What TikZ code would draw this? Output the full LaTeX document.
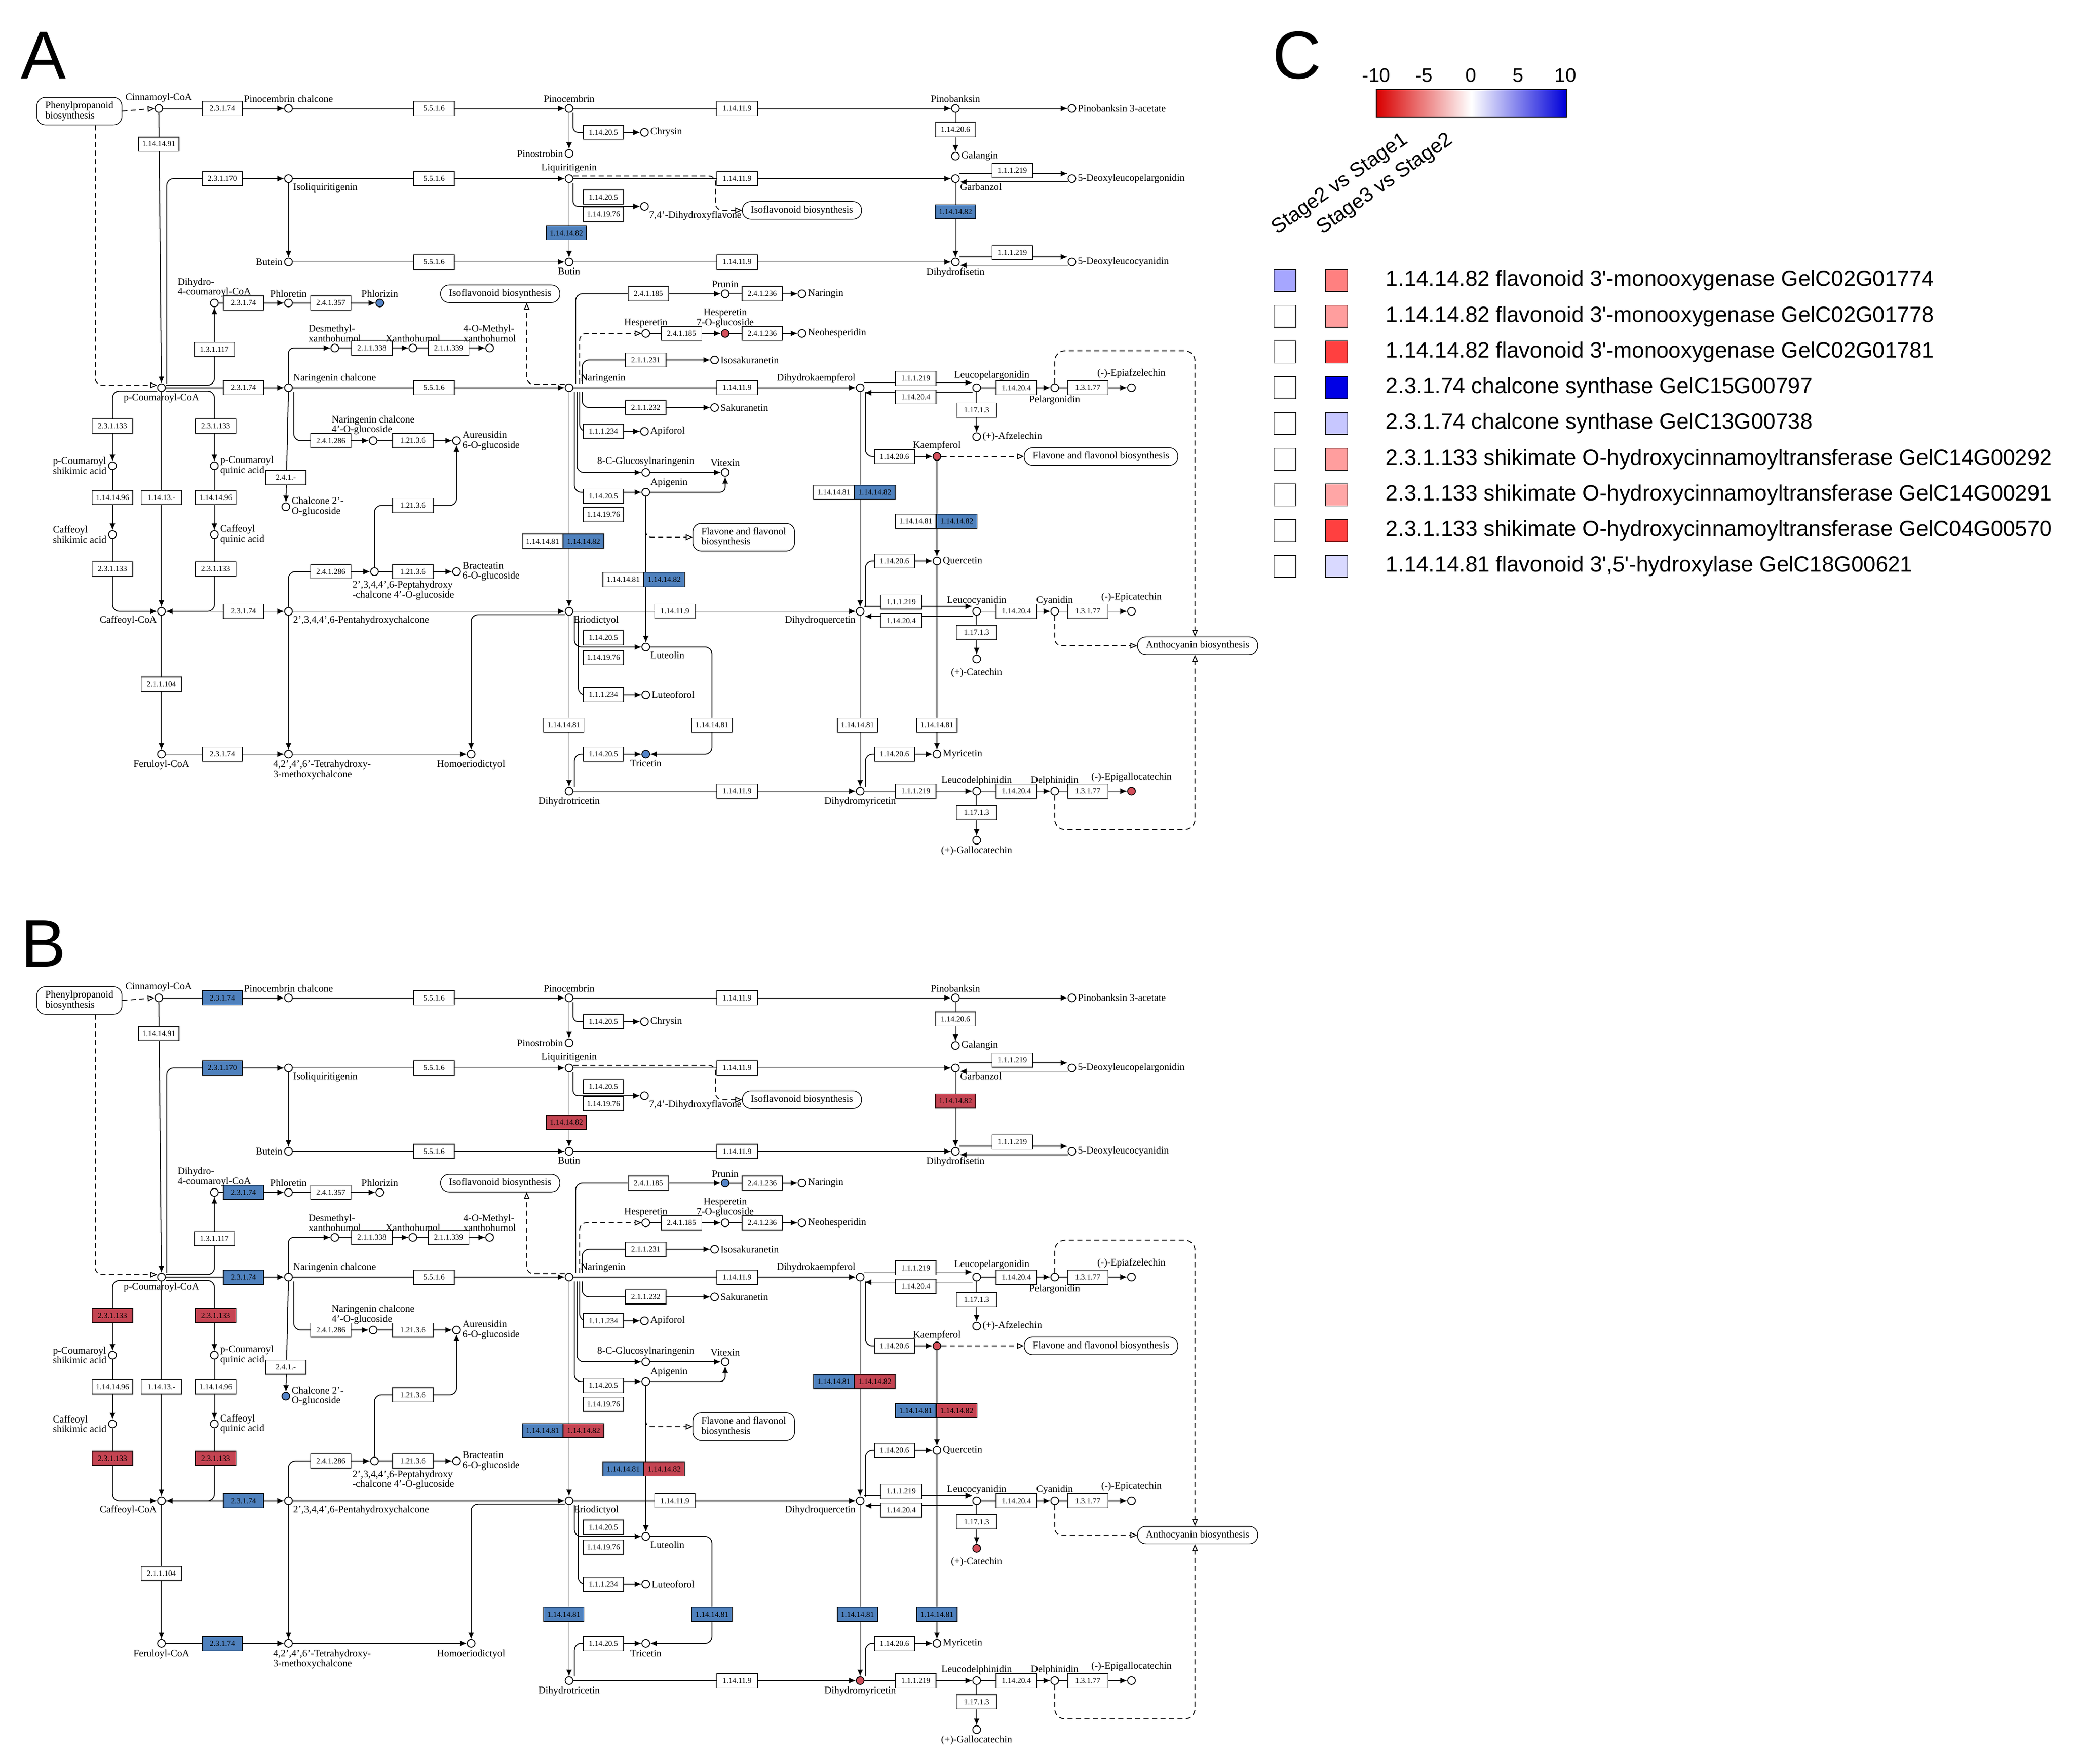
\documentclass[tikz,border=0pt]{standalone}
\usepackage{fontspec}
\setmainfont{Liberation Serif}
\newfontfamily\sansf{Liberation Sans}
\usetikzlibrary{arrows.meta,calc}
\pgfdeclarelayer{bg}\pgfsetlayers{bg,main}
\definecolor{boxblue}{RGB}{79,129,189}
\definecolor{boxred}{RGB}{196,68,82}
\definecolor{dotred}{RGB}{212,80,92}
\definecolor{dotblue}{RGB}{84,132,200}
\tikzset{
 e/.style={draw,fill=white,font=\fontsize{4.6}{5}\selectfont,inner sep=1pt,minimum width=24pt,minimum height=8.4pt},
 c/.style={circle,draw,fill=white,inner sep=0pt,minimum size=4.6pt,line width=0.5pt},
 lb/.style={font=\fontsize{5.9}{5.9}\selectfont,inner sep=0.8pt,align=center},
 p/.style={draw,rounded corners=5pt,fill=white,font=\fontsize{5.9}{5.9}\selectfont,inner xsep=5pt,inner ysep=2.5pt,align=left},
 a/.style={line width=0.5pt,-{Latex[length=4pt,width=3.4pt]}},
 d/.style={line width=0.5pt,dash pattern=on 3pt off 2pt,-{Triangle[open,length=4pt,width=3.4pt]}},
 chs/.style={},f82/.style={},f81/.style={},hct/.style={},
 cPhl/.style={},cHesp/.style={},cKae/.style={},cTri/.style={},cEgc/.style={},
 cPru/.style={},cC2g/.style={},cCat/.style={},cDhm/.style={},
 sq/.style={draw,minimum size=13pt,inner sep=0pt},
 lg/.style={font=\sansf\fontsize{13}{13}\selectfont,anchor=west,inner sep=0pt},
}
\newcommand\keggmap{%
\node[p] (php) at (60,84) {Phenylpropanoid\\biosynthesis};
\node[c,label={[lb]above:Cinnamoyl-CoA}] (cin) at (120,82) {};
\node[e,chs] (e1) at (168,82) {2.3.1.74};
\node[c,label={[lb]above:Pinocembrin chalcone}] (pcc) at (218,82) {};
\node[e] (e2) at (328,82) {5.5.1.6};
\node[c,label={[lb]above:Pinocembrin}] (pin) at (430,82) {};
\node[e] (e3) at (557,82) {1.14.11.9};
\node[c,label={[lb]above:Pinobanksin}] (pnb) at (722,82) {};
\node[c,label={[lb]right:Pinobanksin 3-acetate}] (pnba) at (810,82) {};
\node[e] (e4) at (120,109) {1.14.14.91};
\node[e] (e5) at (456,100) {1.14.20.5};
\node[c,label={[lb]right:Chrysin}] (chr) at (487,100) {};
\node[c,label={[lb]left:Pinostrobin}] (pst) at (430,116) {};
\node[e] (e6) at (722,98) {1.14.20.6};
\node[c,label={[lb]right:Galangin}] (gal) at (722,118) {};
\node[e,chs] (e7) at (168,135) {2.3.1.170};
\node[c,label={[lb,anchor=north west]below right:Isoliquiritigenin}] (isl) at (218,135) {};
\node[e] (e8) at (328,135) {5.5.1.6};
\node[c,label={[lb]above:Liquiritigenin}] (liq) at (430,135) {};
\node[e] (e9) at (557,135) {1.14.11.9};
\node[c,label={[lb,anchor=north west]below right:Garbanzol}] (gbz) at (722,135) {};
\node[e] (e10) at (765,129) {1.1.1.219};
\node[c,label={[lb]right:5-Deoxyleucopelargonidin}] (dlp) at (810,135) {};
\node[e] (e11) at (456,149) {1.14.20.5};
\node[e] (e12) at (456,162) {1.14.19.76};
\node[c,label={[lb,anchor=north west]below right:7,4'-Dihydroxyflavone}] (dhf) at (487,156) {};
\node[p] (iso1) at (606,159) {Isoflavonoid biosynthesis};
\node[e,f82] (e13) at (428,176) {1.14.14.82};
\node[e,f82] (e14) at (722,160) {1.14.14.82};
\node[c,label={[lb]left:Butein}] (btn) at (218,198) {};
\node[e] (e15) at (328,198) {5.5.1.6};
\node[c,label={[lb]below:Butin}] (but) at (430,198) {};
\node[e] (e16) at (557,198) {1.14.11.9};
\node[c,label={[lb]below:Dihydrofisetin}] (dfi) at (722,198) {};
\node[e] (e17) at (765,191) {1.1.1.219};
\node[c,label={[lb]right:5-Deoxyleucocyanidin}] (dlc) at (810,198) {};
\node[c,label={[lb,align=left]above:Dihydro-\\4-coumaroyl-CoA}] (dhc) at (162,229) {};
\node[e,chs] (e18) at (184,229) {2.3.1.74};
\node[c,label={[lb]above:Phloretin}] (phl) at (218,229) {};
\node[e] (e19) at (250,229) {2.4.1.357};
\node[c,cPhl,label={[lb]above:Phlorizin}] (phz) at (287,229) {};
\node[p] (iso2) at (378,222) {Isoflavonoid biosynthesis};
\node[e] (e20) at (490,222) {2.4.1.185};
\node[c,cPru,label={[lb]above:Prunin}] (pru) at (548,222) {};
\node[e] (e21) at (576,222) {2.4.1.236};
\node[c,label={[lb]right:Naringin}] (nrg) at (606,222) {};
\node[e] (e22) at (162,264) {1.3.1.117};
\node[c,label={[lb,align=left]above:Desmethyl-\\xanthohumol}] (dxh) at (253,263) {};
\node[e] (e23) at (281,263) {2.1.1.338};
\node[c,label={[lb]above:Xanthohumol}] (xh) at (312,263) {};
\node[e] (e24) at (339,263) {2.1.1.339};
\node[c,label={[lb,align=left]above:4-O-Methyl-\\xanthohumol}] (mxh) at (370,263) {};
\node[c,label={[lb]above:Hesperetin}] (hsp) at (488,252) {};
\node[e] (e25) at (515,252) {2.4.1.185};
\node[c,cHesp,label={[lb]above:Hesperetin\\7-O-glucoside}] (h7g) at (548,252) {};
\node[e] (e26) at (576,252) {2.4.1.236};
\node[c,label={[lb]right:Neohesperidin}] (nhs) at (606,252) {};
\node[e] (e27) at (488,272) {2.1.1.231};
\node[c,label={[lb]right:Isosakuranetin}] (isk) at (540,272) {};
\node[c,label={[lb]below:p-Coumaroyl-CoA}] (pcou) at (122,293) {};
\node[e,chs] (e28) at (184,293) {2.3.1.74};
\node[c,label={[lb,anchor=south west]above right:Naringenin chalcone}] (nch) at (218,293) {};
\node[e] (e29) at (328,293) {5.5.1.6};
\node[c,label={[lb,anchor=south west,xshift=4pt]above right:Naringenin}] (nar) at (430,293) {};
\node[e] (e30) at (557,293) {1.14.11.9};
\node[c,label={[lb,anchor=south east]above left:Dihydrokaempferol}] (dhk) at (650,293) {};
\node[e] (e31) at (692,286) {1.1.1.219};
\node[e] (e32) at (692,300) {1.14.20.4};
\node[c,label={[lb,xshift=9pt,yshift=1pt]above:Leucopelargonidin}] (lpg) at (738,293) {};
\node[e] (e33) at (768,293) {1.14.20.4};
\node[c,label={[lb,yshift=-1pt]below:Pelargonidin}] (plg) at (797,293) {};
\node[e] (e34) at (822,293) {1.3.1.77};
\node[c,label={[lb,yshift=2pt]above:(-)-Epiafzelechin}] (epa) at (855,293) {};
\node[e] (e35) at (488,308) {2.1.1.232};
\node[c,label={[lb]right:Sakuranetin}] (skr) at (540,308) {};
\node[e] (e36) at (738,310) {1.17.1.3};
\node[c,label={[lb]right:(+)-Afzelechin}] (afz) at (738,330) {};
\node[e] (e37) at (456,326) {1.1.1.234};
\node[c,label={[lb]right:Apiforol}] (apf) at (487,326) {};
\node[e] (e38) at (250,333) {2.4.1.286};
\node[c,label={[lb,align=left]above:Naringenin chalcone\\4'-O-glucoside}] (ncg) at (282,333) {};
\node[e] (e39) at (312,333) {1.21.3.6};
\node[c,label={[lb,align=left]right:Aureusidin\\6-O-glucoside}] (aur) at (345,333) {};
\node[e,hct] (e40) at (85,322) {2.3.1.133};
\node[e,hct] (e41) at (163,322) {2.3.1.133};
\node[c,label={[lb,align=left]left:p-Coumaroyl\\shikimic acid}] (pcs) at (85,352) {};
\node[c,label={[lb,align=left]right:p-Coumaroyl\\quinic acid}] (pcq) at (162,352) {};
\node[e] (e42) at (676,345) {1.14.20.6};
\node[c,cKae,label={[lb]above:Kaempferol}] (kae) at (708,345) {};
\node[p] (flv1) at (832,345) {Flavone and flavonol biosynthesis};
\node[c,label={[lb]above:8-C-Glucosylnaringenin}] (cgn) at (488,357) {};
\node[c,label={[lb]above:Vitexin}] (vtx) at (548,357) {};
\node[e] (e43) at (216,361) {2.4.1.-};
\node[c,cC2g,label={[lb,align=left]right:Chalcone 2'-\\O-glucoside}] (c2g) at (216,383) {};
\node[e] (e44) at (456,375) {1.14.20.5};
\node[e] (e45) at (456,389) {1.14.19.76};
\node[c,label={[lb,anchor=south west]above right:Apigenin}] (api) at (488,372) {};
\node[e] (e46) at (312,382) {1.21.3.6};
\node[e] (e47) at (85,376) {1.14.14.96};
\node[e] (e48) at (122,376) {1.14.13.-};
\node[e] (e49) at (163,376) {1.14.14.96};
\node[e,f81] (e50) at (630,372) {1.14.14.81};
\node[e,f82] (e51) at (661,372) {1.14.14.82};
\node[e,f81] (e80) at (692,394) {1.14.14.81};
\node[e,f82] (e81) at (723,394) {1.14.14.82};
\node[e,f81] (e82) at (410,409) {1.14.14.81};
\node[e,f82] (e83) at (441,409) {1.14.14.82};
\node[e,f81] (e84) at (471,438) {1.14.14.81};
\node[e,f82] (e85) at (502,438) {1.14.14.82};
\node[p] (flv2) at (562,406) {Flavone and flavonol\\biosynthesis};
\node[c,label={[lb,align=left]left:Caffeoyl\\shikimic acid}] (cfs) at (85,404) {};
\node[c,label={[lb,align=left]right:Caffeoyl\\quinic acid}] (cfq) at (162,404) {};
\node[e] (e52) at (676,424) {1.14.20.6};
\node[c,label={[lb]right:Quercetin}] (que) at (708,424) {};
\node[e,hct] (e53) at (85,430) {2.3.1.133};
\node[e,hct] (e54) at (163,430) {2.3.1.133};
\node[e] (e55) at (250,432) {2.4.1.286};
\node[c,label={[lb,align=left,anchor=north west,xshift=-14pt,yshift=-2pt]below:2',3,4,4',6-Peptahydroxy\\-chalcone 4'-O-glucoside}] (phg) at (283,432) {};
\node[e] (e56) at (312,432) {1.21.3.6};
\node[c,label={[lb,align=left]right:Bracteatin\\6-O-glucoside}] (brc) at (345,432) {};
\node[c,label={[lb,anchor=north east]below left:Caffeoyl-CoA}] (caf) at (122,462) {};
\node[e,chs] (e57) at (184,462) {2.3.1.74};
\node[c,label={[lb,anchor=north west]below right:2',3,4,4',6-Pentahydroxychalcone}] (phc) at (218,462) {};
\node[c,label={[lb,anchor=north west]below right:Eriodictyol}] (eri) at (430,462) {};
\node[e] (e58) at (510,462) {1.14.11.9};
\node[c,label={[lb,anchor=north east]below left:Dihydroquercetin}] (dhq) at (650,462) {};
\node[e] (e59) at (681,455) {1.1.1.219};
\node[e] (e60) at (681,469) {1.14.20.4};
\node[c,label={[lb]above:Leucocyanidin}] (lcy) at (738,462) {};
\node[e] (e61) at (768,462) {1.14.20.4};
\node[c,label={[lb]above:Cyanidin}] (cya) at (797,462) {};
\node[e] (e62) at (822,462) {1.3.1.77};
\node[c,label={[lb,yshift=2pt]above:(-)-Epicatechin}] (epc) at (855,462) {};
\node[e] (e63) at (456,482) {1.14.20.5};
\node[e] (e64) at (456,497) {1.14.19.76};
\node[c,label={[lb,anchor=north west]below right:Luteolin}] (lut) at (488,489) {};
\node[e] (e65) at (738,478) {1.17.1.3};
\node[c,cCat,label={[lb,yshift=-2pt]below:(+)-Catechin}] (cat) at (738,498) {};
\node[p] (ant) at (905,488) {Anthocyanin biosynthesis};
\node[e] (e66) at (122,517) {2.1.1.104};
\node[e] (e67) at (456,525) {1.1.1.234};
\node[c,label={[lb]right:Luteoforol}] (ltf) at (488,525) {};
\node[e,f81] (e68) at (426,548) {1.14.14.81};
\node[e,f81] (e69) at (538,548) {1.14.14.81};
\node[e,f81] (e70) at (648,548) {1.14.14.81};
\node[e,f81] (e71) at (708,548) {1.14.14.81};
\node[c,label={[lb]below:Feruloyl-CoA}] (fer) at (122,570) {};
\node[e,chs] (e72) at (168,570) {2.3.1.74};
\node[c,label={[lb,align=left,anchor=north west,xshift=-10pt]below:4,2',4',6'-Tetrahydroxy-\\3-methoxychalcone}] (thm) at (218,570) {};
\node[c,label={[lb]below:Homoeriodictyol}] (hom) at (356,570) {};
\node[e] (e73) at (456,570) {1.14.20.5};
\node[c,cTri,label={[lb]below:Tricetin}] (tri) at (488,570) {};
\node[e] (e74) at (676,570) {1.14.20.6};
\node[c,label={[lb]right:Myricetin}] (myr) at (708,570) {};
\node[c,label={[lb]below:Dihydrotricetin}] (dht) at (430,598) {};
\node[e] (e75) at (557,598) {1.14.11.9};
\node[c,cDhm,label={[lb]below:Dihydromyricetin}] (dhm) at (650,598) {};
\node[e] (e76) at (692,598) {1.1.1.219};
\node[c,label={[lb]above:Leucodelphinidin}] (ldp) at (738,598) {};
\node[e] (e77) at (768,598) {1.14.20.4};
\node[c,label={[lb]above:Delphinidin}] (dlph) at (797,598) {};
\node[e] (e78) at (822,598) {1.3.1.77};
\node[c,cEgc,label={[lb,yshift=2pt]above:(-)-Epigallocatechin}] (egc) at (855,598) {};
\node[e] (e79) at (738,614) {1.17.1.3};
\node[c,label={[lb]below:(+)-Gallocatechin}] (gct) at (738,635) {};
\begin{pgfonlayer}{bg}
\draw[d] (php.east) -- (cin.west);
\draw[d,rounded corners=4pt] ($(php.south)+(12,0)$) |- ([yshift=1.5pt]pcou.west);
\draw[a] (cin) -- (pcc); \draw[a] (pcc) -- (pin); \draw[a] (pin) -- (pnb); \draw[a] (pnb) -- (pnba);
\draw[a] (pin) -- (pst); \draw[a,rounded corners=3pt] ($(pin.south)+(3,0)$) |- (chr);
\draw[a] (pnb) -- (gal); \draw[a] (cin) -- (pcou);
\draw[a,rounded corners=4pt] ($(pcou.north)+(4,0)$) |- (isl);
\draw[a] (isl) -- (btn); \draw[a] (isl) -- (liq); \draw[a] (liq) -- (gbz);
\draw[a] ([yshift=3pt]gbz.east) -- ([yshift=3pt]dlp.west);
\draw[a] ([yshift=-2pt]dlp.west) -- ([yshift=-2pt]gbz.east);
\draw[a] (liq) -- (but); \draw[a,rounded corners=3pt] ($(liq.south)+(3,0)$) |- (dhf);
\draw[d,rounded corners=4pt] ($(liq.east)+(0,-2)$) -| ($(iso1.west)+(-20,0)$) -- (iso1.west);
\draw[a] (btn) -- (but); \draw[a] (but) -- (dfi); \draw[a] (gbz) -- (dfi);
\draw[a] ([yshift=3pt]dfi.east) -- ([yshift=3pt]dlc.west);
\draw[a] ([yshift=-2pt]dlc.west) -- ([yshift=-2pt]dfi.east);
\draw[a,rounded corners=4pt] ([yshift=1.5pt]pcou.east) -| (dhc.south);
\draw[a] (dhc) -- (phl); \draw[a] (phl) -- (phz);
\draw[a] (pcou) -- (nch); \draw[a] (nch) -- (nar); \draw[a] (nar) -- (dhk);
\draw[a] ([yshift=3pt]dhk.east) -- ([yshift=3pt]lpg.west);
\draw[a] ([yshift=-3pt]lpg.west) -- ([yshift=-3pt]dhk.east);
\draw[a] (lpg) -- (plg); \draw[a] (plg) -- (epa); \draw[a] (lpg) -- (afz);
\draw[a,rounded corners=3pt] (nch.north) |- (dxh); \draw[a] (dxh) -- (xh); \draw[a] (xh) -- (mxh);
\draw[a,rounded corners=4pt] ($(nar.north)+(5,0)$) |- (pru); \draw[a] (pru) -- (nrg);
\draw[d,rounded corners=4pt] ($(nar.north)+(8,0)$) |- (hsp);
\draw[a] (hsp) -- (h7g); \draw[a] (h7g) -- (nhs);
\draw[a,rounded corners=4pt] ($(nar.north)+(10,0)$) |- (isk);
\draw[a,rounded corners=4pt] ($(nar.south)+(10,0)$) |- (skr);
\draw[a,rounded corners=4pt] ($(nar.south)+(8,0)$) |- (apf);
\draw[a,rounded corners=4pt] ($(nar.south)+(6,0)$) |- (cgn); \draw[a] (cgn) -- (vtx);
\draw[a,rounded corners=4pt] ($(nar.south)+(4,0)$) |- (api);
\draw[a,rounded corners=3pt] (api.east) -| (vtx.south);
\draw[d,rounded corners=3pt] (api.south) |- (flv2.west);
\draw[a] (nar) -- (eri);
\draw[d,rounded corners=4pt] ([yshift=2pt]nar.west) -| ($(iso2.south)+(20,0)$);
\draw[a,rounded corners=4pt] ([yshift=-2pt]pcou.west) -| (pcs.north);
\draw[a] (pcs) -- (cfs); \draw[a,rounded corners=4pt] (cfs.south) |- (caf.west);
\draw[a,rounded corners=4pt] ([yshift=-2pt]pcou.east) -| (pcq.north);
\draw[a] (pcq) -- (cfq); \draw[a,rounded corners=4pt] (cfq.south) |- (caf.east);
\draw[a] (pcou) -- (caf); \draw[a] (caf) -- (fer);
\draw[a] (nch) -- (c2g);
\draw[a,rounded corners=4pt] ($(nch.south)+(4,0)$) |- (ncg); \draw[a] (ncg) -- (aur);
\draw[a,rounded corners=4pt] (phg.north) |- (e46) -| (aur.south);
\draw[a] (caf) -- (phc); \draw[a] (phc) -- (eri); \draw[a] (eri) -- (dhq);
\draw[a] ([yshift=3pt]dhq.east) -- ([yshift=3pt]lcy.west);
\draw[a] ([yshift=-3pt]lcy.west) -- ([yshift=-3pt]dhq.east);
\draw[a] (lcy) -- (cya); \draw[a] (cya) -- (epc); \draw[a] (lcy) -- (cat);
\draw[a,rounded corners=4pt] (phc.north) |- (phg); \draw[a] (phg) -- (brc);
\draw[a] (phc) -- (thm); \draw[a] (fer) -- (thm); \draw[a] (thm) -- (hom);
\draw[a,rounded corners=4pt] ([yshift=-2pt]eri.west) -| (hom.north);
\draw[a,rounded corners=4pt] ($(eri.south)+(4,0)$) |- (lut);
\draw[a] (api) -- (lut);
\draw[a,rounded corners=4pt] (lut.east) -| (e69.north) -- (e69.south) |- (tri.east);
\draw[a,rounded corners=4pt] ($(eri.south)+(7,0)$) |- (ltf);
\draw[a] (eri) -- (dht);
\draw[a,rounded corners=4pt] ($(dht.north)+(4,0)$) |- (tri.west);
\draw[a] (dht) -- (dhm); \draw[a] (dhk) -- (dhq); \draw[a] (dhq) -- (dhm);
\draw[a,rounded corners=4pt] ($(dhm.north)+(4,0)$) |- (myr.west);
\draw[a] (dhm) -- (ldp); \draw[a] (ldp) -- (dlph); \draw[a] (dlph) -- (egc); \draw[a] (ldp) -- (gct);
\draw[a] (que) -- (myr); \draw[a] (kae) -- (que);
\draw[a,rounded corners=4pt] ($(dhk.south)+(4,0)$) |- (kae.west);
\draw[d] (kae) -- (flv1);
\draw[a,rounded corners=4pt] ($(dhq.north)+(4,0)$) |- (que.west);
\draw[d,rounded corners=6pt] (plg.north) |- ($(ant.north)+(-2,-216)$) -- ($(ant.north)+(-2,0)$);
\draw[d,rounded corners=4pt] (cya.south) |- (ant.west);
\draw[d,rounded corners=6pt] (dlph.south) |- ($(ant.south)+(-2,132)$) -- ($(ant.south)+(-2,0)$);
\end{pgfonlayer}
}
\begin{document}
\begin{tikzpicture}[x=0.0275cm,y=-0.0275cm]
\useasboundingbox (0,0) rectangle (1568,1333);
\node[font=\sansf\fontsize{40}{40}\selectfont] (LA) at (33,42) {A};
\node[font=\sansf\fontsize{40}{40}\selectfont] (LB) at (33,713) {B};
\node[font=\sansf\fontsize{40}{40}\selectfont] (LC) at (980,42) {C};
\begin{scope}[name prefix=A-,f82/.style={fill=boxblue},cPhl/.style={fill=dotblue},
  cHesp/.style={fill=dotred},cKae/.style={fill=dotred},cTri/.style={fill=dotblue},cEgc/.style={fill=dotred}]
\keggmap
\end{scope}
\begin{scope}[yshift=-18.48cm,name prefix=B-,chs/.style={fill=boxblue},f82/.style={fill=boxred},
  f81/.style={fill=boxblue},hct/.style={fill=boxred},cPru/.style={fill=dotblue},cC2g/.style={fill=dotblue},
  cKae/.style={fill=dotred},cCat/.style={fill=dotred},cDhm/.style={fill=dotred}]
\keggmap
\end{scope}
% legend C
\node[minimum width=55.8pt,minimum height=16pt,inner sep=0,left color=red!85!black,right color=white,anchor=west] (cbl) at (1040,78) {};
\node[minimum width=55.8pt,minimum height=16pt,inner sep=0,left color=white,right color=blue!85!black,anchor=west] (cbr) at (cbl.east) {};
\draw[line width=0.6pt] (cbl.north west) rectangle (cbr.south east);
\foreach \v/\x/\n in {-10/1040/t1,-5/1076/t2,0/1111.5/t3,5/1147/t4,10/1183/t5}
  \node[font=\sansf\fontsize{11.5}{11.5}\selectfont] (\n) at (\x,57) {\v};
\node[font=\sansf\fontsize{12}{12}\selectfont,rotate=35,anchor=south west] (s1) at (966,186) {Stage2 vs Stage1};
\node[font=\sansf\fontsize{12}{12}\selectfont,rotate=35,anchor=south west] (s2) at (1000,186) {Stage3 vs Stage2};
\foreach [count=\i] \ca/\cb/\t in {
 {blue!35}/{red!50}/{1.14.14.82 flavonoid 3'-monooxygenase GelC02G01774},
 white/{red!38}/{1.14.14.82 flavonoid 3'-monooxygenase GelC02G01778},
 white/{red!75}/{1.14.14.82 flavonoid 3'-monooxygenase GelC02G01781},
 white/{blue!90!black}/{2.3.1.74 chalcone synthase GelC15G00797},
 white/{blue!22}/{2.3.1.74 chalcone synthase GelC13G00738},
 white/{red!38}/{2.3.1.133 shikimate O-hydroxycinnamoyltransferase GelC14G00292},
 white/{red!35}/{2.3.1.133 shikimate O-hydroxycinnamoyltransferase GelC14G00291},
 white/{red!75}/{2.3.1.133 shikimate O-hydroxycinnamoyltransferase GelC04G00570},
 white/{blue!15}/{1.14.14.81 flavonoid 3',5'-hydroxylase GelC18G00621}} {
 \node[sq,fill=\ca] (qa\i) at (971,185+27*\i) {};
 \node[sq,fill=\cb] (qb\i) at (1010,185+27*\i) {};
 \node[lg] (qt\i) at (1047,185+27*\i) {\t};
}
\end{tikzpicture}
\end{document}
